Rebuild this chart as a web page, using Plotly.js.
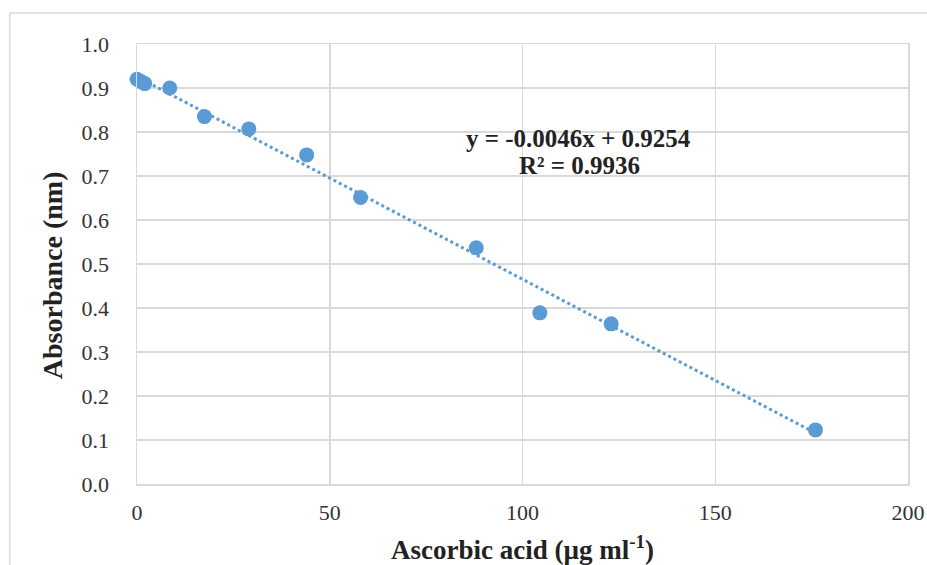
<!DOCTYPE html>
<html>
<head>
<meta charset="utf-8">
<script src="https://cdn.plot.ly/plotly-3.0.1.min.js"></script>
<style>html,body{margin:0;padding:0;background:#fff;}#chart{width:927px;height:565px;}</style>
</head>
<body>
<div id="chart"></div>
<script>
const concentration = [0, 1, 2, 8.5, 17.5, 29, 44, 58, 88, 104.5, 123, 176];
const absorbance = [0.92, 0.915, 0.91, 0.90, 0.835, 0.807, 0.748, 0.651, 0.537, 0.389, 0.364, 0.123];
const slope = -0.0046;
const intercept = 0.9254;
const r2 = 0.9936;
const trendX = [0, 176];
const trendY = trendX.map(x => slope * x + intercept);
const xTicks = [0, 50, 100, 150, 200];
const yTicks = [0, 0.1, 0.2, 0.3, 0.4, 0.5, 0.6, 0.7, 0.8, 0.9, 1.0];

const blue = '#5b9bd5';
const grid = '#d9d9d9';
const font = 'Liberation Serif, Times New Roman, serif';

const data = [
  {x: trendX, y: trendY, mode: 'lines', line: {color: blue, width: 3, dash: 'dot'}, hoverinfo: 'skip', cliponaxis: false},
  {x: concentration, y: absorbance, mode: 'markers', marker: {color: blue, size: 15}, cliponaxis: false}
];

const layout = {
  width: 927, height: 565,
  margin: {l: 137, r: 19, t: 44, b: 81},
  showlegend: false,
  paper_bgcolor: '#fff', plot_bgcolor: '#fff',
  font: {family: font, color: '#333', size: 22},
  xaxis: {
    range: [0, 200], tickvals: xTicks, ticktext: xTicks.map(String),
    showgrid: true, gridcolor: grid, gridwidth: 1.5,
    showline: true, linecolor: grid, linewidth: 1.5, mirror: true,
    zeroline: false, ticks: '', ticklen: 0, ticklabelstandoff: 8,
    tickfont: {family: font, size: 22, color: '#333'},
    title: {text: 'Ascorbic acid (µg ml<sup>-1</sup>)', font: {family: font, size: 27, color: '#222', weight: 'bold'}, standoff: 16}
  },
  yaxis: {
    range: [0, 1], tickvals: yTicks, ticktext: yTicks.map(v => v.toFixed(1)),
    showgrid: true, gridcolor: grid, gridwidth: 1.5,
    showline: true, linecolor: grid, linewidth: 1.5, mirror: true,
    zeroline: false, ticks: '', ticklen: 0, ticklabelstandoff: 22,
    tickfont: {family: font, size: 22, color: '#333'}
  },
  annotations: [
    {x: -0.11, y: 0.475, xref: 'paper', yref: 'paper', xanchor: 'center', yanchor: 'middle',
     text: 'Absorbance (nm)', textangle: -90,
     showarrow: false, font: {family: font, size: 28, color: '#222', weight: 'bold'}},
    {x: 114.4, y: 0.786, xref: 'x', yref: 'y', text: 'y = ' + slope + 'x + ' + intercept,
     showarrow: false, font: {family: font, size: 25, color: '#222', weight: 'bold'}},
    {x: 114.9, y: 0.725, xref: 'x', yref: 'y', text: 'R² = ' + r2,
     showarrow: false, font: {family: font, size: 25, color: '#222', weight: 'bold'}}
  ],
  shapes: [
    {type: 'line', xref: 'paper', yref: 'paper', x0: -0.165, x1: 1.2, y0: 1.0705, y1: 1.0705, line: {color: grid, width: 1.5}},
    {type: 'line', xref: 'paper', yref: 'paper', x0: -0.165, x1: -0.165, y0: 1.0705, y1: -0.3, line: {color: grid, width: 1.5}}
  ]
};

Plotly.newPlot('chart', data, layout, {displayModeBar: false, staticPlot: true});
</script>
</body>
</html>
